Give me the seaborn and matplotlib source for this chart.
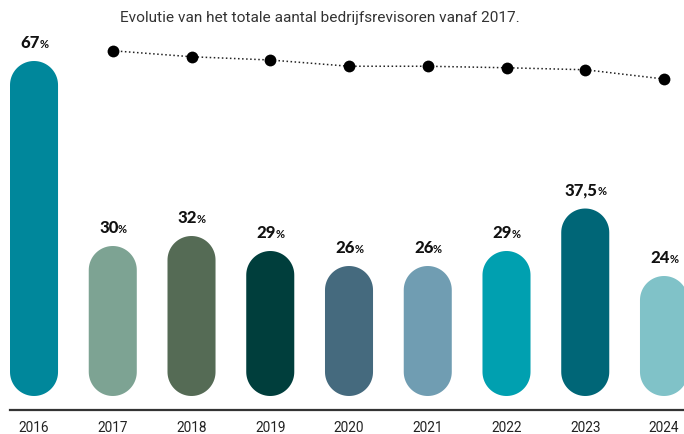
import numpy as np
import pandas as pd
import matplotlib
matplotlib.use('Agg')
import matplotlib.pyplot as plt
import seaborn as sns
from matplotlib.patches import Polygon

# data
jaren = ['2016', '2017', '2018', '2019', '2020', '2021', '2022', '2023', '2024']
percentages = [67, 30, 32, 29, 26, 26, 29, 37.5, 24]
labels = ['67', '30', '32', '29', '26', '26', '29', '37,5', '24']
kleuren = ['#00879B', '#7DA393', '#556B55', '#003E3C', '#456A7E',
           '#709DB2', '#00A0B0', '#006677', '#80C2C8']
lijn_jaren = ['2017', '2018', '2019', '2020', '2021', '2022', '2023', '2024']
revisoren = [1070, 1046, 1033, 1008, 1008, 1002, 994, 957]
titel = 'Evolutie van het totale aantal bedrijfsrevisoren vanaf 2017.'

sns.set_style('white')
plt.rcParams['font.family'] = ['Roboto', 'DejaVu Sans']

W, H = 684, 435
fig = plt.figure(figsize=(W / 100, H / 100), dpi=100)
ax = fig.add_axes([10 / W, 24 / H, 674 / W, 411 / H])

df = pd.DataFrame({'jaar': jaren, 'pct': percentages})
sns.barplot(data=df, x='jaar', y='pct', hue='jaar', palette=kleuren,
            legend=False, width=0.61, ax=ax, saturation=1)

px_per_unit = 5.0
ax.set_xlim(-0.305, 8.254)
ax.set_ylim(-14 / px_per_unit, 397 / px_per_unit)

# bars -> pills (round caps, circular on screen)
x_unit_px = 674 / (8.254 + 0.305)
aspect = x_unit_px / px_per_unit
hoek = np.linspace(0, np.pi, 40)
for bar in list(ax.patches):
    x, w, h = bar.get_x(), bar.get_width(), bar.get_height()
    kleur = bar.get_facecolor()
    bar.remove()
    r = w / 2
    ry = r * aspect
    cx = x + r
    boven = np.column_stack([cx + r * np.cos(hoek), h - ry + ry * np.sin(hoek)])
    onder = np.column_stack([cx - r * np.cos(hoek), ry - ry * np.sin(hoek)])
    ax.add_patch(Polygon(np.vstack([boven, onder]), closed=True,
                         facecolor=kleur, edgecolor='none'))

sns.despine(ax=ax, left=True)
ax.spines['bottom'].set_color('#333333')
ax.spines['bottom'].set_linewidth(1.6)
ax.set_yticks([])
ax.set_xlabel('')
ax.set_ylabel('')
ax.tick_params(axis='x', length=0, pad=7, labelsize=9.8, labelcolor='#222222')

# value labels
fig.canvas.draw()
renderer = fig.canvas.get_renderer()
for i, (v, lab) in enumerate(zip(percentages, labels)):
    t = ax.annotate(lab, (i, v), xytext=(-4, 14), textcoords='offset pixels',
                    ha='center', va='baseline', fontsize=12, fontweight='black',
                    family=['Lato', 'DejaVu Sans'], color='#111111')
    bb = t.get_window_extent(renderer)
    xr = ax.transData.inverted().transform((bb.x1, bb.y0))[0]
    ax.annotate('%', (xr, v), xytext=(-0.5, 14), textcoords='offset pixels',
                ha='left', va='baseline', fontsize=8, fontweight='bold',
                family=['Lato', 'DejaVu Sans'], color='#111111')

# line on twin axis
ax2 = ax.twinx()
pos = [jaren.index(j) for j in lijn_jaren]
sns.lineplot(x=pos, y=revisoren, ax=ax2, color='#222222', linestyle=':',
             linewidth=1.1, marker='o', markersize=8.5, markeredgewidth=0,
             markerfacecolor='black')
ax2.set_ylim(-367, 1277)
ax2.set_xlim(ax.get_xlim())
ax2.set_yticks([])
ax2.set_ylabel('')
for s in ax2.spines.values():
    s.set_visible(False)

fig.text(120 / W, 1 - 18 / H, titel, ha='left', va='center',
         fontsize=11.1, color='#333333')

fig.savefig('out.png', dpi=100, facecolor='white')
